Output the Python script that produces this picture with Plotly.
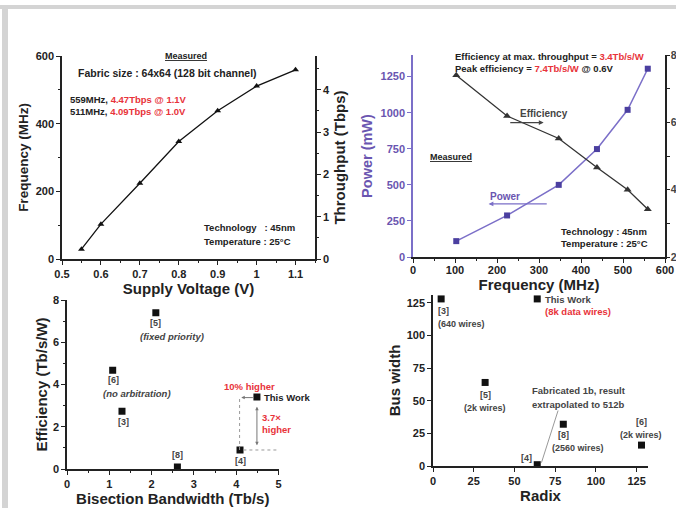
import plotly.graph_objects as go

# ---------------- data ----------------
voltage = [0.55, 0.6, 0.7, 0.8, 0.9, 1.0, 1.1]
frequency_mhz = [29, 103, 224, 347, 438, 511, 559]
throughput_tbps = [0.23, 0.82, 1.79, 2.78, 3.50, 4.09, 4.47]

freq_pts = [103, 224, 347, 438, 511, 559]
power_mw = [110, 288, 500, 748, 1020, 1305]
efficiency = [7.4, 6.19, 5.52, 4.66, 4.0, 3.42]

bisect_bw = [2.1, 1.08, 1.3, 2.61, 4.09, 4.49]
bisect_eff = [7.4, 4.68, 2.73, 0.1, 0.9, 3.41]
bisect_lbl = ["[5]", "[6]", "[3]", "[8]", "[4]", "This Work"]

radix = [5, 64, 32, 80, 128, 64]
bus_width = [128, 128, 64, 32, 16, 1]
radix_lbl = ["[3]", "This Work", "[5]", "[8]", "[6]", "[4]"]

W, H = 676, 508
FONT = "Liberation Sans, Arial, sans-serif"
RED = "#e8333a"
PURPLE_TXT = "#6a55b0"
PURPLE_LINE = "#7b6fc8"
PURPLE_MK = "#4b3fa0"


def dx(px0, px1):
    return [px0 / W, px1 / W]


def dy(top, bot):
    return [1 - bot / H, 1 - top / H]


fig = go.Figure()

# TL
fig.add_trace(go.Scatter(x=voltage, y=frequency_mhz, mode="lines+markers",
                         line=dict(color="#111", width=1.3),
                         marker=dict(symbol="triangle-up", size=6, color="#111"),
                         xaxis="x", yaxis="y", showlegend=False))
fig.add_trace(go.Scatter(x=voltage, y=throughput_tbps, mode="markers",
                         marker=dict(opacity=0), xaxis="x", yaxis="y2",
                         showlegend=False, hoverinfo="skip"))
# TR
fig.add_trace(go.Scatter(x=freq_pts, y=power_mw, mode="lines+markers",
                         line=dict(color=PURPLE_LINE, width=1.5),
                         marker=dict(symbol="square", size=6, color=PURPLE_MK),
                         xaxis="x2", yaxis="y3", showlegend=False))
fig.add_trace(go.Scatter(x=freq_pts, y=efficiency, mode="lines+markers",
                         line=dict(color="#333", width=1.3),
                         marker=dict(symbol="triangle-up", size=7, color="#333"),
                         xaxis="x2", yaxis="y4", showlegend=False))
# BL
fig.add_trace(go.Scatter(x=bisect_bw, y=bisect_eff, mode="markers",
                         marker=dict(symbol="square", size=7, color="#111"),
                         xaxis="x3", yaxis="y5", showlegend=False,
                         text=bisect_lbl))
# BR
fig.add_trace(go.Scatter(x=radix, y=bus_width, mode="markers",
                         marker=dict(symbol="square", size=7, color="#111"),
                         xaxis="x4", yaxis="y6", showlegend=False,
                         text=radix_lbl))

tickf = dict(family=FONT, size=11, color="#222", weight="bold")
titf = dict(family=FONT, size=15, color="#222", weight="bold")


def ax(**kw):
    base = dict(showline=True, linecolor="#222", linewidth=1.5, ticks="outside",
                ticklen=4, tickwidth=1.2, tickcolor="#222", showgrid=False,
                zeroline=False, tickfont=tickf, title_font=titf, automargin=False)
    base.update(kw)
    return base


layout = dict(
    width=W, height=H, margin=dict(l=0, r=0, t=0, b=0),
    paper_bgcolor="white", plot_bgcolor="rgba(0,0,0,0)",
    font=dict(family=FONT),
    xaxis=ax(domain=dx(62, 315), range=[0.5, 1.15], dtick=0.1, tick0=0.5,
             anchor="y", title=dict(text="Supply Voltage (V)", standoff=0),
             minor=dict(ticks="outside", dtick=0.05, ticklen=2, tickcolor="#222")),
    yaxis=ax(domain=dy(56, 259), range=[0, 600], dtick=200, anchor="x",
             title=dict(text="Frequency (MHz)", standoff=4,
                        font=dict(family=FONT, size=13.5, color="#222", weight="bold")),
             minor=dict(ticks="outside", dtick=100, ticklen=2, tickcolor="#222")),
    yaxis2=ax(overlaying="y", side="right", anchor="x", range=[0, 4.8], dtick=1,
              title=dict(text="Throughput (Tbps)", standoff=6),
              minor=dict(ticks="outside", dtick=0.5, ticklen=2, tickcolor="#222")),
    xaxis2=ax(domain=dx(413, 665), range=[0, 600], dtick=100, anchor="y3",
              ticklabelstandoff=-2,
              title=dict(text="Frequency (MHz)", standoff=0),
              minor=dict(ticks="outside", dtick=50, ticklen=2, tickcolor="#222")),
    yaxis3=ax(domain=dy(55, 257), range=[0, 1400], dtick=250, anchor="x2",
              linecolor=PURPLE_LINE, tickcolor=PURPLE_LINE,
              tickfont=dict(family=FONT, size=11, color=PURPLE_TXT, weight="bold"),
              title=dict(text="Power (mW)", standoff=4,
                         font=dict(family=FONT, size=14.5, color=PURPLE_TXT, weight="bold"))),
    yaxis4=ax(overlaying="y3", side="right", anchor="x2", range=[2, 8], dtick=2,
              ticklen=3, ticklabelstandoff=-1,
              tickfont=dict(family=FONT, size=10.5, color="#444", weight="bold"),
              minor=dict(ticks="outside", dtick=1, ticklen=3, tickcolor="#222")),
    xaxis3=ax(domain=dx(67, 278.5), range=[0, 5], dtick=1, anchor="y5",
              title=dict(text="Bisection Bandwidth (Tb/s)", standoff=0),
              minor=dict(ticks="outside", dtick=0.5, ticklen=2, tickcolor="#222")),
    yaxis5=ax(domain=dy(300, 469), range=[0, 8], dtick=2, anchor="x3",
              title=dict(text="Efficiency (Tb/s/W)", standoff=2),
              minor=dict(ticks="outside", dtick=1, ticklen=2, tickcolor="#222")),
    xaxis4=ax(domain=dx(433, 648), range=[0, 132], dtick=25, anchor="y6",
              title=dict(text="Radix", standoff=0)),
    yaxis6=ax(domain=dy(295, 466), range=[0, 131], dtick=25, anchor="x4",
              title=dict(text="Bus width", standoff=2)),
)
fig.update_layout(**layout)

ann = []


def t(x, y, text, xr, yr, size=9.5, color="#222", xa="center", ya="middle", italic=False):
    ann.append(dict(x=x, y=y, xref=xr, yref=yr, text=text, showarrow=False,
                    xanchor=xa, yanchor=ya, align="left" if xa == "left" else "center",
                    font=dict(family=FONT, size=size, color=color, weight="bold",
                              style="italic" if italic else "normal")))


def r(s):
    return f"<span style='color:{RED}'>{s}</span>"


# TL texts
t(0.818, 600, "<u>Measured</u>", "x", "y", size=9, ya="middle")
t(0.772, 551, "Fabric size : 64x64 (128 bit channel)", "x", "y", size=10.5)
t(0.515, 470, "559MHz, " + r("4.47Tbps @ 1.1V"), "x", "y", size=9.5, xa="left")
t(0.515, 435, "511MHz, " + r("4.09Tbps @ 1.0V"), "x", "y", size=9.5, xa="left")
t(0.86, 92, "Technology   : 45nm", "x", "y", size=9.5, xa="left")
t(0.86, 51, "Temperature : 25°C", "x", "y", size=9.5, xa="left")

# TR texts
t(95, 1393, "Efficiency at max. throughput = " + r("3.4Tb/s/W"), "x2", "y3", size=9.5, xa="left")
t(95, 1307, "Peak efficiency = " + r("7.4Tb/s/W") + " @ 0.6V", "x2", "y3", size=9.5, xa="left")
t(311, 994, "Efficiency", "x2", "y3", size=10, color="#444")
t(220, 421, "Power", "x2", "y3", size=10, color=PURPLE_TXT)
t(35, 690, "<u>Measured</u>", "x2", "y3", size=9, xa="left")
t(347, 177, "Technology : 45nm", "x2", "y3", size=9.5, xa="left")
t(347, 92, "Temperature : 25°C", "x2", "y3", size=9.5, xa="left")
ann.append(dict(x=311, y=932, ax=228, ay=932, xref="x2", yref="y3", axref="x2", ayref="y3",
                showarrow=True, arrowhead=2, arrowsize=0.8, arrowwidth=1.2,
                arrowcolor="#444", text=""))
ann.append(dict(x=180, y=368, ax=322, ay=368, xref="x2", yref="y3", axref="x2", ayref="y3",
                showarrow=True, arrowhead=2, arrowsize=0.8, arrowwidth=1.2,
                arrowcolor=PURPLE_LINE, text=""))

# BL texts
t(2.1, 6.9, "[5]", "x3", "y5", size=9, color="#444")
t(2.48, 6.26, "(fixed priority)", "x3", "y5", size=9.5, color="#444", italic=True)
t(1.1, 4.2, "[6]", "x3", "y5", size=9, color="#444")
t(1.65, 3.57, "(no arbitration)", "x3", "y5", size=9.5, color="#444", italic=True)
t(1.34, 2.23, "[3]", "x3", "y5", size=9, color="#444")
t(2.62, 0.65, "[8]", "x3", "y5", size=9, color="#444")
t(4.11, 0.38, "[4]", "x3", "y5", size=9, color="#444")
t(4.6, 3.38, "This Work", "x3", "y5", size=9.5, xa="left")
t(4.31, 3.92, "10% higher", "x3", "y5", size=9.5, color=RED)
t(4.57, 2.15, "3.7×<br>higher", "x3", "y5", size=9.5, color=RED, xa="left")
ann.append(dict(x=4.12, y=3.38, ax=4.43, ay=3.38, xref="x3", yref="y5", axref="x3", ayref="y5",
                showarrow=True, arrowhead=2, arrowsize=0.7, arrowwidth=1,
                arrowcolor="#777", text=""))
ann.append(dict(x=4.49, y=1.12, ax=4.49, ay=3.02, xref="x3", yref="y5", axref="x3", ayref="y5",
                showarrow=True, arrowhead=2, startarrowhead=2, arrowside="end+start",
                arrowsize=0.7, arrowwidth=1, arrowcolor="#777", text=""))
fig.add_shape(type="line", x0=4.08, x1=4.08, y0=0.9, y1=3.38, xref="x3", yref="y5",
              line=dict(color="#999", width=1, dash="dot"))
fig.add_shape(type="line", x0=4.17, x1=4.96, y0=0.9, y1=0.9, xref="x3", yref="y5",
              line=dict(color="#999", width=1, dash="dot"))

# BR texts
t(2.0, 118.6, "[3]", "x4", "y6", size=9, color="#444", xa="left")
t(1.6, 109, "(640 wires)", "x4", "y6", size=9, color="#444", xa="left")
t(67.6, 127.8, "This Work", "x4", "y6", size=9.5, color="#444", xa="left")
t(67.6, 118, "(8k data wires)", "x4", "y6", size=9.5, color=RED, xa="left")
t(32.2, 54.5, "[5]", "x4", "y6", size=9, color="#444")
t(32.2, 44.8, "(2k wires)", "x4", "y6", size=9, color="#444")
t(80.3, 23.8, "[8]", "x4", "y6", size=9, color="#444")
t(89.1, 13.6, "(2560 wires)", "x4", "y6", size=9, color="#444")
t(127.7, 33.5, "[6]", "x4", "y6", size=9, color="#444")
t(127.7, 23.8, "(2k wires)", "x4", "y6", size=9, color="#444")
t(57.4, 6.4, "[4]", "x4", "y6", size=9, color="#444")
t(89.5, 57.6, "Fabricated 1b, result", "x4", "y6", size=9.5, color="#444")
t(89.5, 46.9, "extrapolated to 512b", "x4", "y6", size=9.5, color="#444")
fig.add_shape(type="line", x0=76.8, y0=42.5, x1=66.6, y1=2.6, xref="x4", yref="y6",
              line=dict(color="#999", width=1))

# frame strips
fig.add_shape(type="rect", xref="paper", yref="paper", x0=0, x1=1,
              y0=1 - 9 / H, y1=1 - 5 / H, line=dict(width=0), fillcolor="#d4d4d4", layer="above")
fig.add_shape(type="rect", xref="paper", yref="paper", x0=2 / W, x1=8 / W,
              y0=0, y1=1 - 9 / H, line=dict(width=0), fillcolor="#d4d4d4", layer="above")

fig.update_layout(annotations=ann)
fig.write_html("out.html", config={"displayModeBar": False},
               post_script="document.body.style.margin='0';document.body.style.overflow='hidden';")
